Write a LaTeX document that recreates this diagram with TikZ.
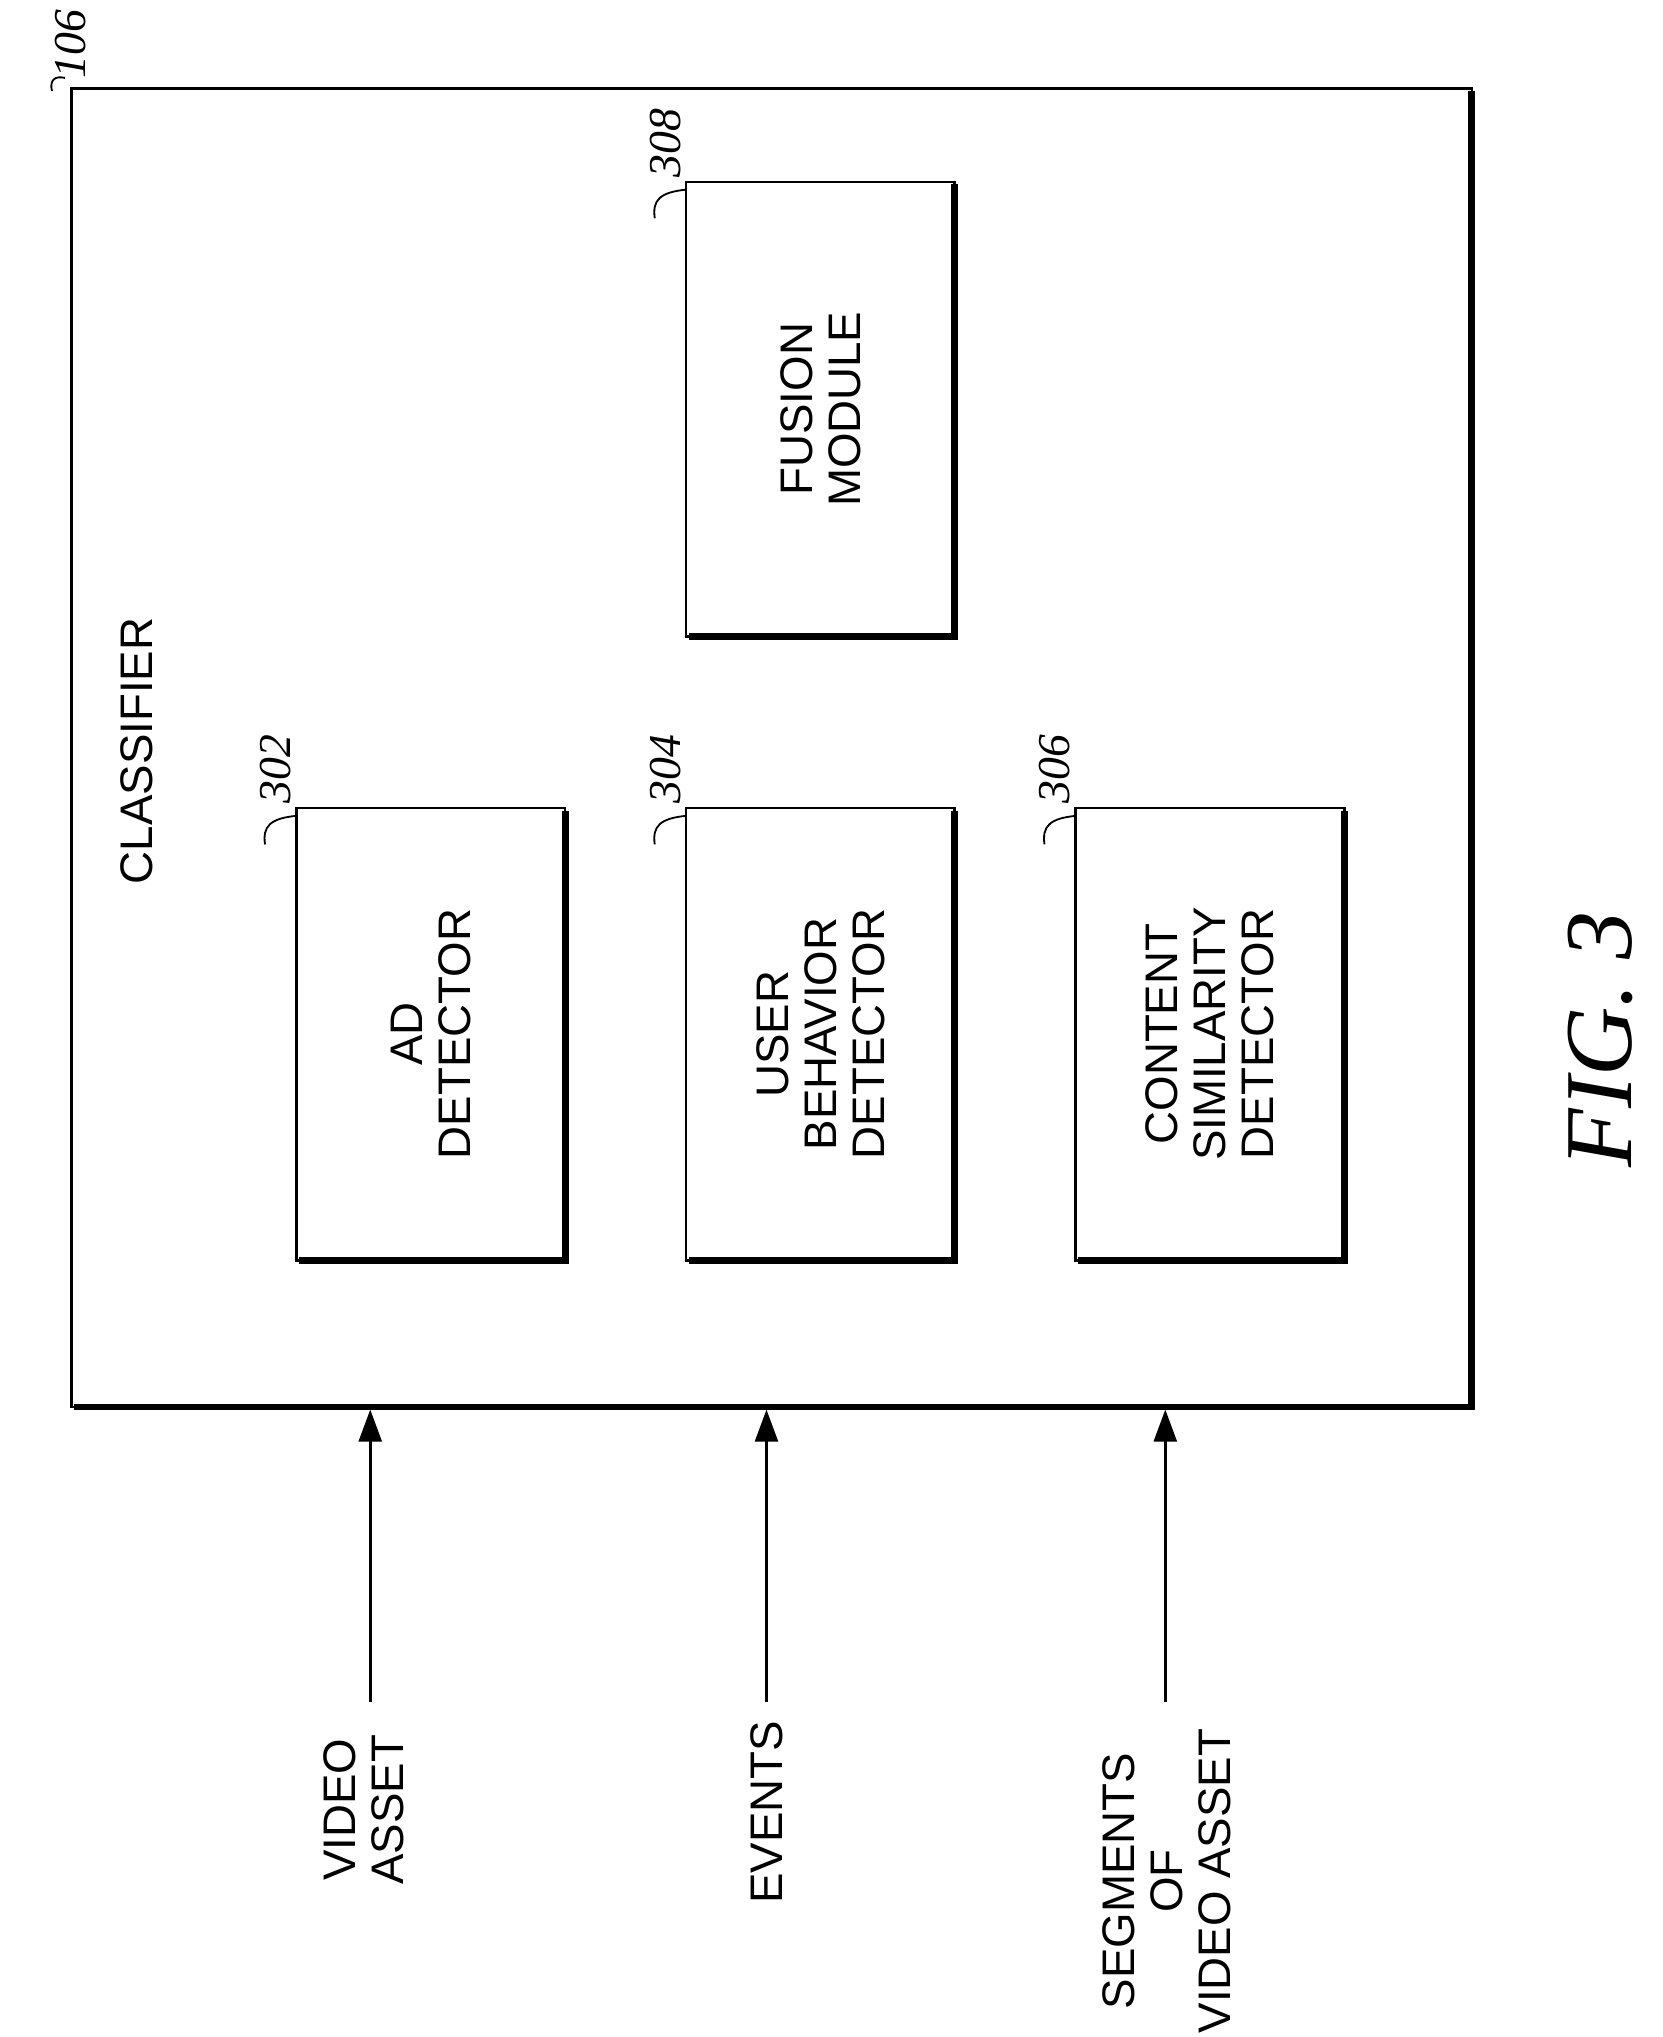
\documentclass[tikz,border=0pt]{standalone}
\usepackage{fontspec}
\setmainfont{Liberation Sans}
\newfontfamily\figfont{Liberation Serif}
\usetikzlibrary{arrows.meta}
\begin{document}
\begin{tikzpicture}[x=0.02cm,y=-0.02cm,
  lbl/.style={font=\fontsize{20}{21}\selectfont,rotate=90,align=center},
  num/.style={font=\fontsize{20}{20}\selectfont\figfont\itshape,rotate=90},
  arr/.style={line width=1.2pt,-{Triangle[length=14pt,width=10pt]}}]
\useasboundingbox (0,0) rectangle (1280,1568);
\draw[line width=1.2pt] (55,68) rectangle (1133,1083);
\draw[line width=3pt] (1133,70)--(1133,1083)--(57,1083);
\foreach \n/\x/\y/\w/\h/\t in {ad/228/622/207/348/{AD\\DETECTOR},ub/528/622/207/348/{USER\\BEHAVIOR\\DETECTOR},cs/828/622/207/348/{CONTENT\\SIMILARITY\\DETECTOR},fu/528/140/207/350/{FUSION\\MODULE}}{
  \draw[line width=1.2pt] (\x,\y) rectangle ++(\w,\h);
  \draw[line width=3pt] (\x+\w,\y+2) -- ++(0,\h-2) -- ++(-\w+2,0);
  \node[lbl] (\n) at (\x+\w/2,\y+\h/2) {\t};
}
\node[lbl] (cl) at (105,578) {CLASSIFIER};
\node[num] (n106) at (54,34) {106};
\draw[line width=0.8pt] (40,70) .. controls (38,62) and (42,58) .. (50,60);
\node[num] (n302) at (212,592) {302};
\draw[line width=0.8pt] (204,650) .. controls (202,636) and (208,630) .. (228,628);
\node[num] (n304) at (512,592) {304};
\draw[line width=0.8pt] (504,650) .. controls (502,636) and (508,630) .. (528,628);
\node[num] (n306) at (812,592) {306};
\draw[line width=0.8pt] (804,650) .. controls (802,636) and (808,630) .. (828,628);
\node[num] (n308) at (512,110) {308};
\draw[line width=0.8pt] (504,168) .. controls (502,154) and (508,148) .. (528,146);
\node[lbl] (va) at (280,1393) {VIDEO\\ASSET};
\node[lbl] (ev) at (590,1395) {EVENTS};
\node[lbl] (sg) at (898,1448) {SEGMENTS\\OF\\VIDEO ASSET};
\coordinate (t1) at (285,1085); \coordinate (t2) at (590,1085); \coordinate (t3) at (897,1085);
\coordinate (s1) at (285,1310); \coordinate (s2) at (590,1310); \coordinate (s3) at (897,1310);
\draw[arr] (s1) -- (t1);
\draw[arr] (s2) -- (t2);
\draw[arr] (s3) -- (t3);
\node[font=\fontsize{42}{42}\selectfont\figfont\itshape,rotate=90] (fig) at (1232,800) {FIG. 3};
\end{tikzpicture}
\end{document}
